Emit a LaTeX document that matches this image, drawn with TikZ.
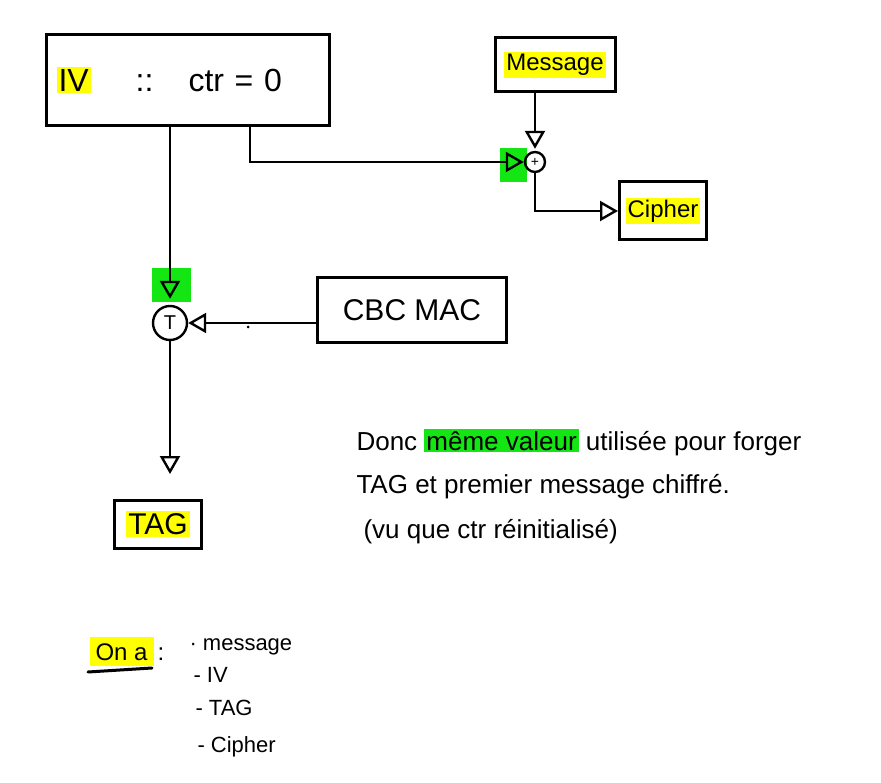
\documentclass[tikz,border=0pt]{standalone}
\usepackage{fontspec}
\setmainfont{Liberation Sans}
\usetikzlibrary{arrows.meta,positioning}
\definecolor{hlyellow}{RGB}{255,255,0}
\definecolor{hlgreen}{RGB}{20,230,20}
\newcommand{\hly}[1]{{\setlength{\fboxsep}{2pt}\colorbox{hlyellow}{#1}}}
\newcommand{\hlg}[1]{{\setlength{\fboxsep}{2pt}\colorbox{hlgreen}{#1}}}

\begin{document}
\begin{tikzpicture}[
  x=1pt, y=-1pt,
  box/.style={draw, line width=3pt, inner sep=0pt, align=center},
  txt/.style={font=\fontsize{#1}{#1}\selectfont},
  gate/.style={draw, circle, line width=2.4pt, inner sep=0pt},
  arrow/.style={-{Triangle[open,length=18pt,width=20pt,line width=2.4pt]}, line width=2.6pt}
]
\useasboundingbox (0,0) rectangle (881,783);

% green marks behind the two inputs
\fill[hlgreen] (152,268) rectangle (191,302);
\fill[hlgreen] (500,148) rectangle (527,182);

\node[box, minimum width=283pt, minimum height=91pt, text width=263pt, align=left, txt=32] (iv) at (188,80) {\hly{IV}\hspace{45pt}::\hspace{35pt}ctr = 0};
\node[box, minimum width=120pt, minimum height=54pt, txt=24] (msg) at (555,65) {\hly{Message}};
\node[gate, minimum size=20pt, txt=14] (xor) at (535,162) {+};
\node[box, minimum width=87pt, minimum height=58pt, txt=24] (ciph) at (663,211) {\hly{Cipher}};
\node[gate, minimum size=34pt, txt=20] (trunc) at (170,323) {T};
\node[box, minimum width=189pt, minimum height=65pt, txt=30] (cbc) at (412,310) {CBC MAC};
\node[box, minimum width=87pt, minimum height=48pt, txt=30] (tag) at (158,524) {\hly{TAG}};

\coordinate (ctrout) at (250,0);
\coordinate (tagin) at (170,474);

\draw[arrow, shorten >=6pt] (iv.south -| trunc) -- (trunc.north);
\draw[arrow] (iv.south -| ctrout) |- (xor.west);
\draw[arrow, shorten >=2pt] (msg.south -| xor) -- (xor.north);
\draw[arrow] (xor.south) |- (ciph.west);
\draw[arrow] (cbc.west |- trunc) -- (trunc.east);
\draw[arrow] (trunc.south) -- (tagin);
\fill (248,327) circle (1.5pt);

% remark
\node[anchor=base west, txt=26] (note1) at (353,450) {Donc \hlg{même valeur} utilisée pour forger};
\node[anchor=base west, txt=26] (note2) at (353,493) {TAG et premier message chiffré.};
\node[anchor=base west, txt=26] (note3) at (360,538) {(vu que ctr réinitialisé)};

% what we have
\node[anchor=base west, txt=24] (ona) at (86,660) {{\setlength{\fboxsep}{6pt}\colorbox{hlyellow}{On a}}\,:};
\draw[line width=3pt, line cap=round] (88,672) -- (152,668);
\node[anchor=base west, txt=22] (have1) at (186,650) {· message};
\node[anchor=base west, txt=22] (have2) at (190,682) {- IV};
\node[anchor=base west, txt=22] (have3) at (192,715) {- TAG};
\node[anchor=base west, txt=22] (have4) at (194,752) {- Cipher};
\end{tikzpicture}
\end{document}
